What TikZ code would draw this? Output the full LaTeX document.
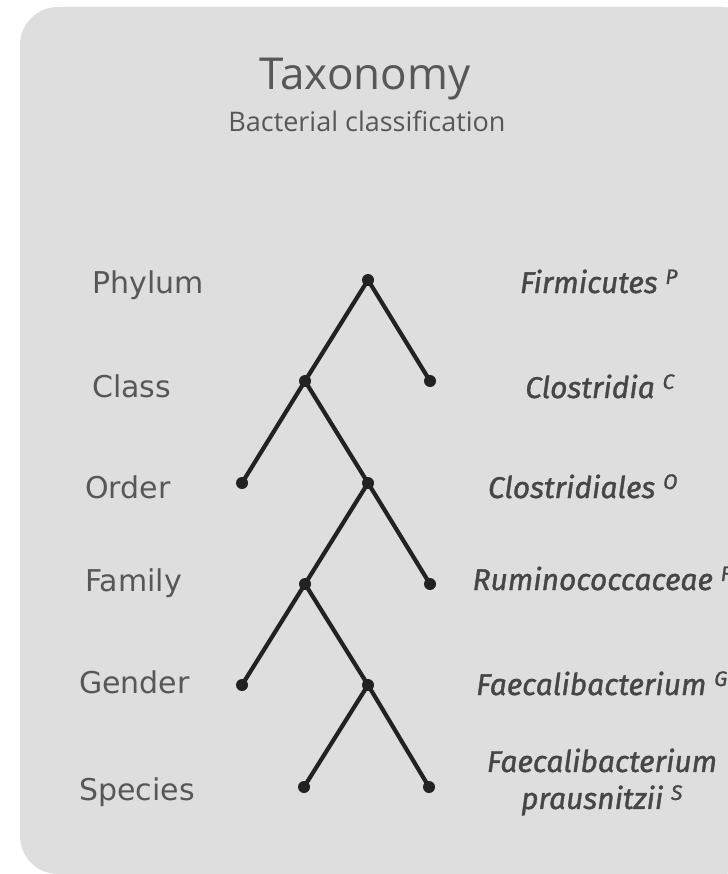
\documentclass[tikz,border=0pt]{standalone}
\usepackage{fontspec}
\setmainfont{Open Sans}
\newfontfamily\leftfont{DejaVu Sans}
\newfontfamily\rightfont{Fira Sans}[ItalicFeatures={FakeBold=1.2}]
\definecolor{boxgray}{HTML}{DEDEDE}
\definecolor{txtgray}{HTML}{575757}
\definecolor{rtxt}{HTML}{464646}
\definecolor{linec}{HTML}{222222}
\begin{document}
\begin{tikzpicture}[x=1pt,y=-1pt,
  rank/.style={anchor=base west,inner sep=0pt,text=txtgray,font=\leftfont\fontsize{30}{34}\selectfont},
  taxon/.style={inner sep=0pt,text=rtxt,align=center,font=\rightfont\itshape\fontsize{30}{37}\selectfont},
  dotn/.style={circle,fill=linec,inner sep=0pt,minimum size=12pt},
  branch/.style={draw=linec,line width=4.2pt}]
\useasboundingbox (0,0) rectangle (727,874);
\fill[white] (0,0) rectangle (727,874);
\fill[boxgray,rounded corners=38pt] (20,7) rectangle (760,874);
% titles
\node[text=txtgray,font=\fontsize{44}{50}\selectfont,inner sep=0pt,anchor=base] (title) at (365,90) {Taxonomy};
\node[text=txtgray,font=\fontsize{27}{30}\selectfont,inner sep=0pt,anchor=base] (subtitle) at (367,132) {Bacterial classification};
% tree nodes
\node[dotn] (n1) at (368,280) {};
\node[dotn] (n2) at (305,381) {};
\node[dotn] (n2r) at (430,381) {};
\node[dotn] (n3l) at (242,483) {};
\node[dotn] (n3) at (368,483) {};
\node[dotn] (n4) at (305,584) {};
\node[dotn] (n4r) at (430,584) {};
\node[dotn] (n5l) at (242,685) {};
\node[dotn] (n5) at (368,685) {};
\node[dotn] (n6l) at (304,787) {};
\node[dotn] (n6r) at (429,787) {};
\draw[branch] (n1.center) -- (n2.center);
\draw[branch] (n1.center) -- (n2r.center);
\draw[branch] (n2.center) -- (n3l.center);
\draw[branch] (n2.center) -- (n3.center);
\draw[branch] (n3.center) -- (n4.center);
\draw[branch] (n3.center) -- (n4r.center);
\draw[branch] (n4.center) -- (n5l.center);
\draw[branch] (n4.center) -- (n5.center);
\draw[branch] (n5.center) -- (n6l.center);
\draw[branch] (n5.center) -- (n6r.center);
% rank labels
\node[rank] (phylum) at (92,293) {Phylum};
\node[rank] (class) at (92,397) {Class};
\node[rank] (order) at (85,498) {Order};
\node[rank] (family) at (85,591) {Family};
\node[rank] (gender) at (79,693) {Gender};
\node[rank] (species) at (79,800) {Species};
% taxon labels
\node[taxon,anchor=base] (tp) at (599,293) {Firmicutes~\textsuperscript{P}};
\node[taxon,anchor=base] (tc) at (600,398) {Clostridia~\textsuperscript{C}};
\node[taxon,anchor=base] (to) at (583,498) {Clostridiales~\textsuperscript{O}};
\node[taxon,anchor=base] (tf) at (602,590) {Ruminococcaceae~\textsuperscript{F}};
\node[taxon,anchor=base] (tg) at (602,695) {Faecalibacterium~\textsuperscript{G}};
\node[taxon] (ts) at (602,782) {Faecalibacterium\\prausnitzii~\textsuperscript{S}};
\end{tikzpicture}
\end{document}
